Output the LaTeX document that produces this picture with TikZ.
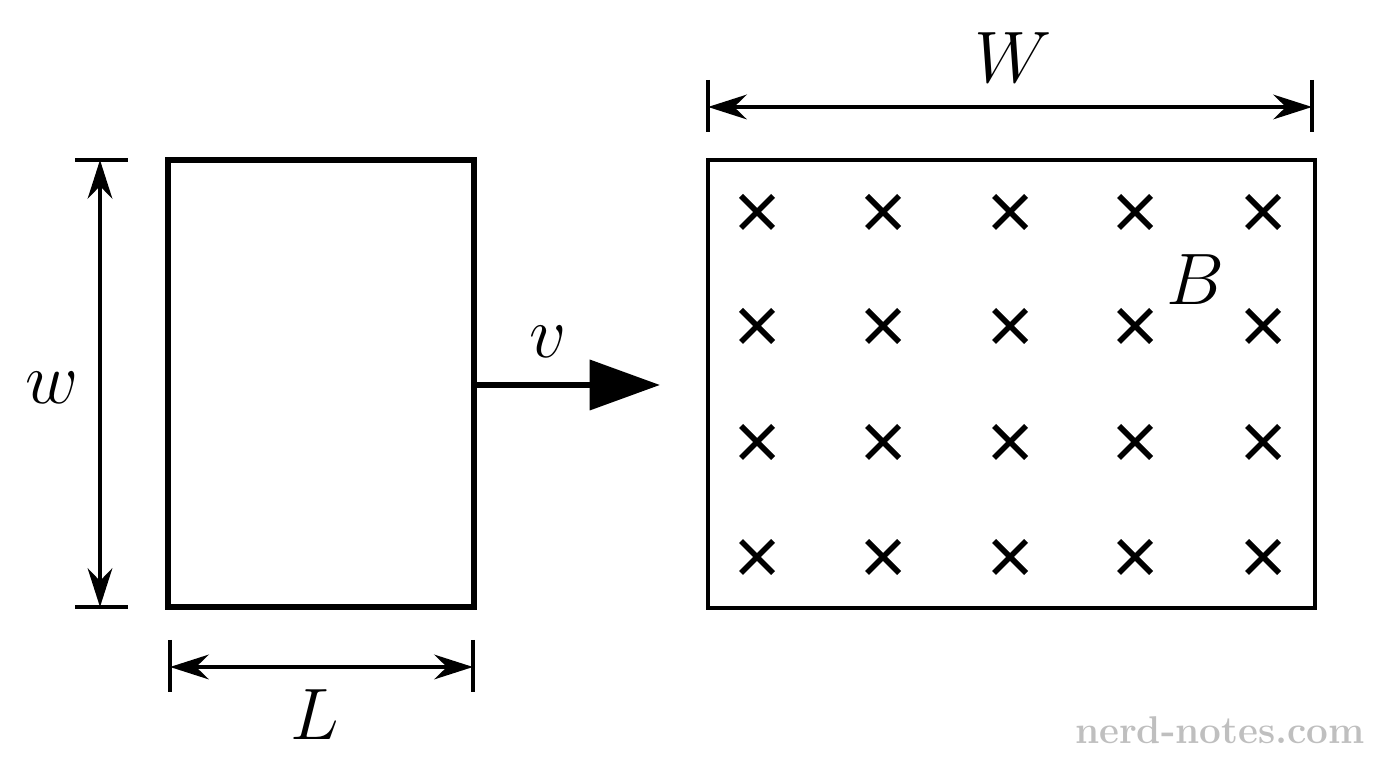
\documentclass[tikz,border=0pt]{standalone}
\usepackage{amsmath}
\usepackage{tikz}
\usetikzlibrary{arrows.meta}
\tikzset{
  dim/.style={{Stealth[length=11pt,width=7pt]}-{Stealth[length=11pt,width=7pt]}, line width=1.2pt},
  tick/.style={line width=1.2pt},
  lbl/.style={font=\fontsize{22}{26}\selectfont},
  cross/.style={line width=1.6pt}
}
\begin{document}
\begin{tikzpicture}[x=0.01cm,y=-0.01cm]
  \useasboundingbox (0,0) rectangle (1376,768);
  % loop
  \draw[line width=1.8pt] (168,160) rectangle (474,607);
  % field region
  \draw[line width=1.1pt] (708,160) rectangle (1315,608);
  \foreach \cx in {757,883,1010,1135,1263}
    \foreach \cy in {212,326,442,557}
      \draw[cross] (\cx-16,\cy-16) -- (\cx+16,\cy+16) (\cx-16,\cy+16) -- (\cx+16,\cy-16);
  \node[lbl] (bfield) at (1195,280) {$B$};
  % velocity
  \coordinate (vstart) at (474,385);
  \coordinate (vend) at (660,385);
  \draw[-{Triangle[length=20pt,width=14pt]}, line width=1.8pt] (vstart) -- (vend);
  \node[lbl] (vel) at (548,342) {$v$};
  % dimension w
  \draw[tick] (75,160) -- (128,160) (75,607) -- (128,607);
  \coordinate (wtop) at (100,160);
  \coordinate (wbot) at (100,607);
  \draw[dim] (wtop) -- (wbot);
  \node[lbl] (wlab) at (52,388) {$w$};
  % dimension L
  \draw[tick] (170,640) -- (170,692) (473,640) -- (473,692);
  \coordinate (lleft) at (170,667);
  \coordinate (lright) at (473,667);
  \draw[dim] (lleft) -- (lright);
  \node[lbl] (llab) at (315,715) {$L$};
  % dimension W
  \draw[tick] (708,80) -- (708,132) (1312,80) -- (1312,132);
  \coordinate (Wleft) at (708,107);
  \coordinate (Wright) at (1312,107);
  \draw[dim] (Wleft) -- (Wright);
  \node[lbl] (Wlab) at (1013,58) {$W$};
  \node[text=black!25, font=\fontsize{11}{13}\selectfont\bfseries] (mark) at (1220,730) {nerd-notes.com};
\end{tikzpicture}
\end{document}
